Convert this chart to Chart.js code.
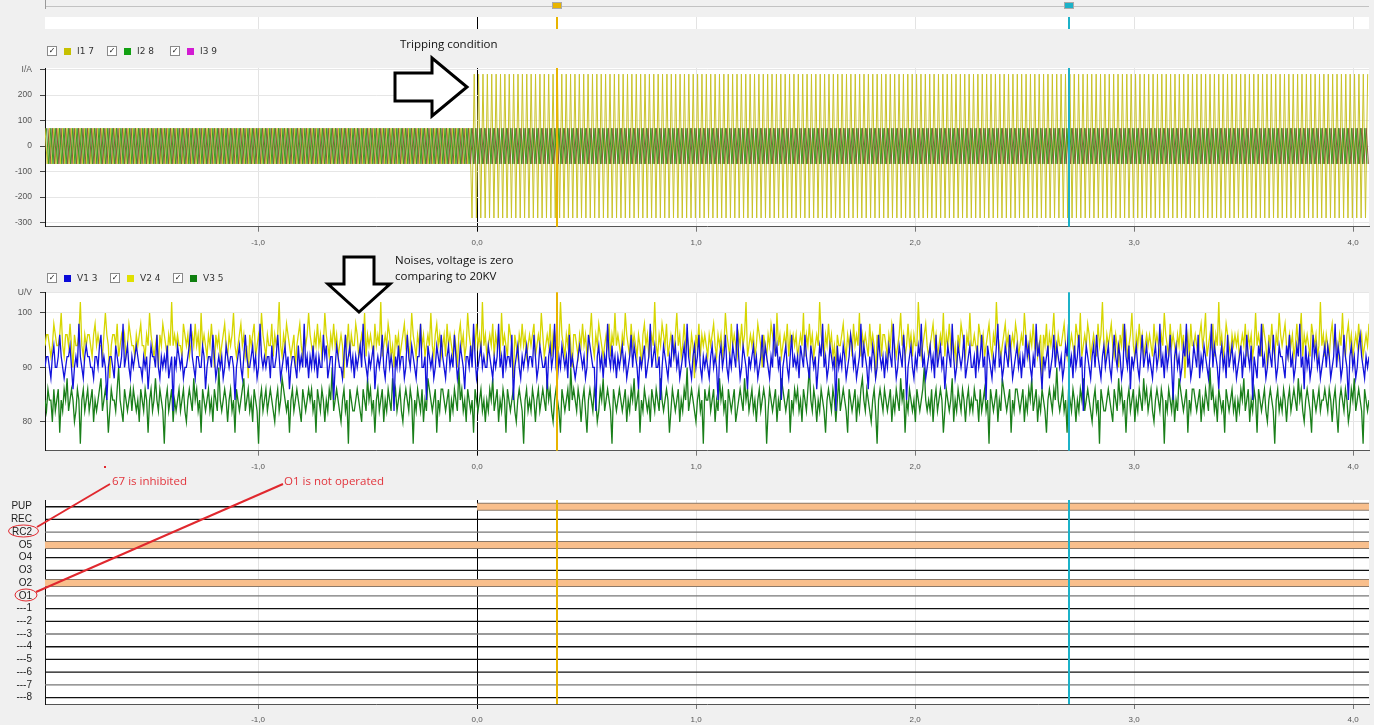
<!DOCTYPE html>
<html>
<head>
<meta charset="utf-8">
<script src="https://cdn.jsdelivr.net/npm/chart.js@4.4.1/dist/chart.umd.min.js"></script>
<style>
  html, body { margin: 0; padding: 0; background: #f0f0f0; width: 1374px; height: 725px; overflow: hidden; }
  .box { position: absolute; left: 0; width: 1374px; }
  .lg { position: absolute; display: flex; align-items: center; height: 12px; font: 9px "DejaVu Sans", sans-serif; color: #333; }
  .cb { width: 8px; height: 8px; border: 1px solid #8a8a8a; background: #fff; font: bold 8px "DejaVu Sans", sans-serif; line-height: 8px; text-align: center; color: #111; margin-right: 7px; }
  .sw { width: 7px; height: 7px; margin-right: 6px; }
  .note { position: absolute; font: 11.5px "Open Sans", sans-serif; color: #111; white-space: nowrap; line-height: 16px; }
  .red { color: #e2343c; }
</style>
</head>
<body>
<div class="box" style="top:0;height:32px"><canvas id="strip"></canvas></div>
<div class="box" style="top:34px;height:216px"><canvas id="currents"></canvas></div>
<div class="box" style="top:250px;height:220px"><canvas id="voltages"></canvas></div>
<div class="box" style="top:455px;height:270px"><canvas id="digital"></canvas></div>

<div class="note" style="left:400px;top:36px">Tripping condition</div>
<div class="note" style="left:395px;top:252px">Noises, voltage is zero<br>comparing to 20KV</div>
<div class="note red" style="left:112px;top:473px">67 is inhibited</div>
<div class="note red" style="left:284px;top:473px">O1 is not operated</div>

<script>
// time window (s) and axis ticks
const tMin = -1.973;
const tMax = 4.073;
const timeTicks = [-1, 0, 1, 2, 3, 4];
const cursorTimes = [0.365, 2.703];
const cursorColors = ["#e8b400", "#1cb2c8"];

// currents (A): amplitude before / after the fault, 50 Hz
const currentNames = ["I1 7", "I2 8", "I3 9"];
const faultTime = -0.031;
const freqHz = 50;
const i1Amp = [70, 282];
const i2Amp = [70, 70];
const i3Amp = [70, 70];
const currentTicks = [300, 200, 100, 0, -100, -200, -300];

// voltages (V), noise samples read across the window
const voltageNames = ["V1 3", "V2 4", "V3 5"];
const voltageTicks = [103.8, 100, 90, 80];
const v1 = [
  90,92,92,90,88,92,94,90,90,92,96,92,90,88,90,92,92,94,90,86,90,92,90,98,92,90,88,92,94,92,
  92,90,90,88,92,92,90,94,96,90,92,90,84,90,92,92,90,88,94,92,90,90,92,98,90,92,94,90,88,92,
  90,92,94,92,90,90,88,92,90,92,86,90,94,92,92,90,96,90,88,92,90,92,90,94,88,90,92,82,92,90,
  94,92,90,92,88,90,90,92,94,98,92,90,88,92,92,90,90,94,92,86,90,92,92,90,96,92,88,90,92,90,
  92,88,90,94,92,90,92,92,90,84,90,92,94,90,88,92,96,92,90,90,92,94,90,92,88,90,98,92,90,92,
  90,92,92,88,94,90,90,92,96,92,88,90,92,94,90,92,86,90,92,92,90,88,94,90,92,90,98,90,92,88,
  92,90,94,90,92,88,92,90,90,96,92,94,88,90,92,92,84,90,94,92,90,90,88,92,96,90,92,94,90,92,
  88,92,90,92,94,90,98,92,90,88,92,90,92,94,86,90,92,90,92,96,90,88,92,94,90,92,90,82,92,90,
  94,90,92,92,88,90,96,92,90,94,92,90,88,92,92,98,90,90,92,84,94,92,90,92,88,90,94,92,90,96,
  92,90,88,92,94,90,92,90,96,92,88,90,94,92,90,86,92,92,90,94,90,98,92,88,90,92,94,90,92,90,
  90,94,92,90,88,92,90,92,98,90,92,88,94,90,92,92,90,96,84,90,92,94,90,88,92,90,92,94,90,92,
  92,90,96,92,88,90,94,92,90,90,92,86,92,94,90,92,98,90,88,92,90,94,92,90,92,88,96,90,92,90,
  88,90,92,94,92,90,92,88,90,96,94,92,90,90,82,92,94,90,92,88,92,90,98,92,90,94,90,92,88,92,
  90,92,94,90,92,88,90,92,96,90,94,92,90,86,92,90,92,94,88,90,92,98,90,92,94,90,90,92,84,90,
  94,92,90,88,92,90,96,92,94,90,92,88,90,92,94,90,98,92,90,88,92,94,90,92,96,90,88,92,90,92,
  90,88,92,94,90,92,90,84,92,94,90,92,96,90,88,92,90,94,92,90,98,92,88,90,94,92,90,86,92,90,
  92,94,90,92,88,90,92,96,90,94,92,90,88,92,90,98,92,94,90,92,84,90,92,94,90,88,92,96,90,92,
  90,92,88,94,92,90,96,92,90,88,94,92,90,92,86,90,94,92,98,90,92,88,90,94,92,90,92,82,94,90,
  92,90,94,92,88,90,92,96,94,90,92,88,90,92,98,90,94,92,90,86,92,90,94,92,88,90,96,92,90,92,
  88,92,90,94,92,90,98,92,88,90,94,92,90,96,92,84,90,92,94,90,88,92,90,94,92,98,90,92,88,90,
  92,94,90,92,88,96,90,92,94,90,92,86,90,94,92,90,98,92,88,90,94,92,90,92,96,88,90,92,94,90,
  90,92,88,94,90,92,96,90,92,84,94,92,90,88,92,90,94,98,90,92,88,90,94,92,90,96,92,88,90,92,
  94,90,92,88,92,90,96,92,94,90,88,92,90,98,92,94,90,86,92,90,92,94,88,90,92,96,90,94,92,90,
  92,88,90,94,92,98,90,92,88,94,90,92,96,90,92,82,90,94,92,90,88,92,94,90,96,92,90,88,92,94,
  90,92,94,90,88,92,96,92,90,94,92,88,90,98,92,90,94,86,92,90,92,94,90,88,92,96,90,92,94,90,
  92,90,88,92,94,90,92,98,90,92,88,94,90,92,96,90,84,92,94,90,92,88,90,94,92,98,90,92,88,90,
  94,92,90,96,88,92,90,94,92,90,88,92,98,90,94,92,90,86,92,94,90,92,88,96,90,92,94,90,92,88,
  90,92,94,88,92,90,96,92,90,94,84,92,90,88,94,92,98,90,92,88,90,94,92,90,96,92,88,90,94,92,
  92,90,88,94,92,96,90,92,88,90,94,92,98,90,92,86,94,90,92,88,90,96,92,94,90,92,88,90,92,94,
  90,94,92,88,90,92,98,90,94,92,88,90,96,92,90,84,92,94,90,92,88,90,94,96,92,90,88,92,90,92
];
const v2 = [
  94,96,96,94,92,94,98,96,94,94,96,100,94,92,96,96,94,98,94,90,96,94,94,96,102,94,92,96,94,96,
  96,94,92,96,98,94,96,94,94,92,96,100,96,94,88,94,96,96,94,98,92,94,96,94,96,92,94,98,96,94,
  94,92,96,94,96,98,94,94,92,96,94,100,96,94,92,94,96,90,96,94,98,96,94,92,96,94,102,94,96,94,
  96,94,94,92,98,96,94,96,92,94,96,94,98,94,96,92,100,94,96,94,92,96,94,98,94,90,96,94,96,92,
  94,96,98,94,92,96,94,96,100,94,92,94,96,98,94,96,92,94,88,96,94,96,98,92,94,96,94,100,96,94,
  92,96,94,94,98,92,96,94,96,102,94,92,96,94,98,96,94,92,94,96,90,94,96,98,94,92,96,94,96,100,
  96,94,92,96,94,98,94,96,92,94,100,96,94,92,96,94,98,94,96,92,94,96,94,88,96,94,98,92,96,94,
  94,98,96,92,94,96,94,100,92,96,94,96,94,92,98,94,96,94,102,92,94,96,94,98,96,92,94,90,96,94,
  96,92,94,96,98,94,96,92,94,100,96,94,92,96,94,98,94,96,92,94,96,94,100,94,92,96,98,94,96,92,
  94,96,92,98,94,96,94,92,96,94,90,96,98,94,96,92,94,100,96,94,92,96,94,98,94,96,92,102,94,96,
  92,94,96,94,98,92,96,94,96,92,100,94,96,94,92,98,96,94,88,96,94,92,96,94,98,94,96,92,94,96,
  94,96,98,92,94,96,94,100,96,92,94,96,94,98,92,96,94,96,92,94,102,96,94,92,96,94,98,94,90,96,
  96,94,92,96,94,98,94,96,92,94,96,100,94,92,96,94,98,96,94,92,94,96,94,98,92,96,94,100,94,96,
  94,92,96,94,100,96,94,92,98,94,96,94,92,96,94,90,96,98,94,96,92,94,96,94,102,94,92,96,94,98,
  96,94,98,92,94,96,94,92,96,100,94,96,92,94,98,94,96,94,92,96,94,88,96,94,98,92,96,94,96,94,
  92,96,94,96,98,94,92,96,94,96,92,94,100,96,94,92,98,94,96,94,92,96,94,98,94,96,102,92,94,96,
  94,96,92,94,98,96,94,90,96,94,92,96,94,98,96,94,92,100,94,96,92,94,96,94,98,92,96,94,96,94,
  96,92,94,96,94,100,92,96,94,98,94,96,92,94,96,94,102,96,94,92,96,94,98,94,96,92,94,90,96,94,
  94,96,98,94,92,96,94,96,92,98,94,96,94,100,92,96,94,96,94,92,98,94,96,94,88,96,94,98,92,96,
  96,94,92,96,94,98,96,94,92,94,96,100,94,96,92,94,98,94,96,92,96,94,94,102,96,92,94,96,98,94,
  92,94,96,98,94,96,92,94,96,94,100,92,96,94,98,94,96,92,94,90,96,94,98,96,94,92,96,94,100,94,
  94,96,94,92,98,96,94,96,92,94,96,98,94,92,96,94,102,96,94,92,94,96,98,94,96,92,94,96,94,98,
  96,92,94,96,94,100,96,94,92,96,94,98,94,96,92,94,96,88,96,94,98,92,96,94,96,100,94,92,96,94,
  94,96,98,94,92,96,94,96,94,92,98,96,94,100,92,94,96,94,98,96,92,94,96,94,92,98,94,96,102,94,
  92,96,94,96,98,94,92,96,94,90,96,94,98,94,96,92,94,96,100,94,92,96,94,98,94,96,92,94,96,94,
  96,94,92,98,94,96,94,92,96,94,100,96,94,92,98,94,96,94,92,96,94,98,94,96,88,94,96,92,98,94,
  94,96,94,92,96,98,94,96,100,92,94,96,94,98,92,96,94,102,94,96,92,94,98,96,94,92,96,94,96,94,
  96,92,94,96,94,98,92,96,94,96,92,94,100,94,96,94,92,98,96,94,90,96,94,98,94,92,96,94,100,96,
  94,96,98,94,92,96,94,96,92,94,98,94,96,100,92,96,94,96,94,92,98,96,94,96,92,94,102,94,96,92,
  96,94,92,96,98,94,96,94,92,96,94,100,94,92,96,98,94,96,92,94,96,94,98,94,96,92,94,96,94,98
];
const v3 = [
  84,82,86,84,84,80,86,82,84,86,78,84,82,86,84,88,82,84,86,84,80,82,86,84,76,84,86,82,84,86,
  82,84,86,80,84,82,84,86,88,82,84,86,84,78,82,86,84,84,82,86,90,84,82,80,86,84,82,84,86,82,
  86,84,82,84,80,86,84,82,86,84,78,84,86,82,84,88,84,82,86,84,82,76,84,86,82,84,86,80,84,82,
  84,86,82,84,86,82,80,84,86,84,82,88,84,86,82,84,78,86,84,82,84,86,82,84,80,86,84,82,90,84,
  82,84,86,84,80,84,86,82,84,78,86,84,82,84,86,88,82,84,86,82,84,80,86,84,82,76,84,86,82,84,
  86,82,84,86,84,82,80,84,86,82,84,88,86,84,82,84,78,84,86,82,84,86,84,82,80,86,84,82,84,86,
  84,86,82,84,78,86,84,82,86,84,80,84,82,86,84,90,82,84,86,84,82,80,84,86,82,84,76,86,84,82,
  82,84,86,84,82,80,86,84,82,88,84,86,82,84,78,84,86,82,84,86,80,84,82,86,84,82,88,84,86,82,
  84,86,82,80,84,86,84,82,86,84,76,84,82,86,84,82,86,80,84,82,88,86,84,82,84,86,78,84,82,86,
  86,84,82,84,86,80,84,82,86,84,82,90,84,86,82,84,80,86,84,82,84,78,86,84,82,84,86,82,84,80,
  84,82,86,84,88,82,84,86,80,84,82,86,84,78,86,84,82,84,86,82,80,84,86,84,82,76,84,86,82,84,
  82,86,84,80,84,86,82,84,86,84,82,88,84,86,82,80,84,86,84,82,78,86,84,82,84,86,82,90,84,86,
  84,82,86,84,80,84,86,82,78,84,86,84,82,86,84,80,82,86,84,88,82,84,86,84,82,76,86,84,82,84,
  86,84,82,84,86,80,84,82,86,84,88,82,84,86,78,84,82,86,84,82,84,80,86,84,82,86,84,82,88,84,
  82,84,86,84,78,82,86,84,82,84,86,80,84,82,86,84,90,82,84,86,84,82,80,84,86,82,84,76,86,84,
  84,86,82,84,86,80,84,82,88,84,86,82,84,78,86,84,82,84,86,80,82,84,86,84,82,88,84,86,82,84,
  86,82,84,80,84,86,82,84,86,84,76,82,86,84,82,84,86,80,84,82,88,86,84,82,84,86,78,84,82,86,
  84,86,82,84,80,86,84,82,86,90,84,82,86,84,80,84,82,86,84,82,78,84,86,84,82,86,84,80,84,88,
  82,84,86,84,82,78,86,84,82,84,86,80,84,82,86,88,84,82,86,84,82,80,84,86,82,76,84,86,84,82,
  86,84,82,84,86,80,84,82,86,84,82,88,84,86,78,84,82,86,84,82,84,80,86,84,82,84,86,90,84,82,
  84,82,86,80,84,86,82,84,86,84,78,82,86,84,82,84,88,80,84,82,86,84,82,86,84,80,84,86,82,84,
  82,86,84,84,80,86,82,84,86,82,84,76,86,84,82,84,86,80,84,82,88,86,84,82,84,86,78,84,82,86,
  86,84,82,84,86,80,84,82,86,84,88,82,84,86,80,84,82,86,84,82,78,84,86,84,82,86,84,90,84,82,
  84,86,82,84,78,86,84,82,86,84,80,84,82,86,84,88,82,84,86,84,82,80,84,86,82,84,76,86,84,82,
  82,84,86,84,82,80,86,84,82,88,84,86,82,84,78,84,86,82,84,86,80,84,82,86,84,82,88,84,86,82,
  84,86,82,80,84,86,84,82,86,84,76,84,82,86,84,82,86,80,84,82,88,86,84,82,84,86,78,84,82,86,
  86,84,82,84,86,80,84,82,86,84,82,90,84,86,82,84,80,86,84,82,84,78,86,84,82,84,86,82,84,80,
  84,82,86,84,88,82,84,86,80,84,82,86,84,78,86,84,82,84,86,82,80,84,86,84,82,76,84,86,82,84,
  82,86,84,80,84,86,82,84,86,84,82,88,84,86,82,80,84,86,84,82,78,86,84,82,84,86,82,84,84,86,
  84,82,86,84,80,84,86,82,78,84,86,84,82,86,84,80,82,86,84,88,82,84,86,84,82,76,86,84,82,84
];

// binary channels
const digitalLabels = ["PUP", "REC", "RC2", "O5", "O4", "O3", "O2", "O1",
  "---1", "---2", "---3", "---4", "---5", "---6", "---7", "---8"];
const activeChannels = ["PUP", "O5", "O2"];
const activeStart = [0.0, tMin, tMin];

// styles
const currentColors = ["#c9c329", "#3c9e24", "#8c5a3c"];
const currentKeyColors = ["#c6c000", "#12a012", "#d21bd2"];
const voltageColors = ["#1212dc", "#d6d600", "#1a7f1a"];
const voltageKeyColors = ["#0a0ad8", "#e0e000", "#108010"];
const lineShade = ["#111", "#111", "#777", "#777", "#111", "#111", "#555", "#777",
  "#111", "#111", "#777", "#111", "#111", "#111", "#777", "#111"];

Chart.defaults.font.family = "'Liberation Sans', Arial, sans-serif";
Chart.defaults.animation = false;

function waveform(amp, phase) {
  // one point per half cycle, sign alternating
  const half = 1 / freqHz / 2;
  const pts = [];
  let k = 0;
  for (let t = tMin + phase / freqHz; t <= tMax; t += half, k++) {
    const a = t < faultTime ? amp[0] : amp[1];
    pts.push({ x: t, y: k % 2 ? -a : a });
  }
  return pts;
}

function samples(arr) {
  const step = (tMax - tMin) / (arr.length - 1);
  return arr.map((v, i) => ({ x: tMin + i * step, y: v }));
}

function timeAxis(height, labels) {
  return {
    type: "linear", min: tMin, max: tMax,
    afterBuildTicks: s => { s.ticks = timeTicks.map(v => ({ value: v })); },
    afterFit: s => { s.height = height; },
    grid: {
      color: c => (c.tick && c.tick.value === 0 ? "#000" : "#e3e3e3"),
      tickColor: c => (c.tick && c.tick.value === 0 ? "#000" : "#777"),
      tickLength: 5, drawTicks: labels
    },
    border: { display: labels, color: "#555" },
    ticks: {
      display: labels, padding: 6, color: "#555", font: { size: 8 }, maxRotation: 0,
      callback: v => v.toFixed(1).replace(".", ",")
    }
  };
}

const panelPlugin = {
  id: "panel",
  beforeDraw(chart) {
    const { ctx, chartArea: a } = chart;
    ctx.save();
    ctx.fillStyle = "#fff";
    ctx.fillRect(a.left, a.top, a.right - a.left, a.bottom - a.top);
    ctx.restore();
  },
  afterDatasetsDraw(chart) {
    const { ctx, chartArea: a, scales: { x } } = chart;
    cursorTimes.forEach((t, i) => {
      const px = Math.round(x.getPixelForValue(t));
      ctx.save();
      ctx.strokeStyle = cursorColors[i];
      ctx.lineWidth = 2;
      ctx.beginPath();
      ctx.moveTo(px, a.top);
      ctx.lineTo(px, a.bottom);
      ctx.stroke();
      ctx.restore();
    });
  }
};

function drawArrow(ctx, pts) {
  ctx.save();
  ctx.beginPath();
  pts.forEach((p, i) => (i ? ctx.lineTo(p[0], p[1]) : ctx.moveTo(p[0], p[1])));
  ctx.closePath();
  ctx.fillStyle = "#fff";
  ctx.fill();
  ctx.lineWidth = 3;
  ctx.lineJoin = "miter";
  ctx.strokeStyle = "#000";
  ctx.stroke();
  ctx.restore();
}

function baseOptions(padTop) {
  return {
    responsive: true, maintainAspectRatio: false, events: [],
    layout: { padding: { top: padTop, right: 5, left: 0, bottom: 0 } },
    plugins: { legend: { display: false }, tooltip: { enabled: false } },
    elements: { point: { radius: 0 }, line: { borderWidth: 1, tension: 0 } }
  };
}

// overview strip
const stripOpts = baseOptions(17);
stripOpts.layout.padding.left = 45;
stripOpts.layout.padding.bottom = 3;
stripOpts.scales = { x: timeAxis(0, false), y: { display: false, min: 0, max: 1 } };
new Chart(document.getElementById("strip"), {
  type: "line",
  data: { datasets: [] },
  options: stripOpts,
  plugins: [panelPlugin, {
    id: "stripTop",
    afterDraw(chart) {
      const { ctx, scales: { x } } = chart;
      ctx.save();
      ctx.strokeStyle = "#c2c2c2";
      ctx.beginPath(); ctx.moveTo(45, 6.5); ctx.lineTo(1369, 6.5); ctx.stroke();
      ctx.strokeStyle = "#999";
      ctx.beginPath(); ctx.moveTo(45.5, 0); ctx.lineTo(45.5, 9); ctx.stroke();
      cursorTimes.forEach((t, i) => {
        const px = Math.round(x.getPixelForValue(t));
        ctx.fillStyle = cursorColors[i];
        ctx.fillRect(px - 4, 3, 8, 5);
        ctx.strokeStyle = "#aaa";
        ctx.strokeRect(px - 4.5, 2.5, 9, 6);
      });
      ctx.restore();
    }
  }]
});

// currents
const curOpts = baseOptions(34);
curOpts.scales = {
  x: timeAxis(23.3, true),
  y: {
    min: -316, max: 306,
    afterBuildTicks: s => { s.ticks = currentTicks.map(v => ({ value: v })); },
    afterFit: s => { s.width = 45; },
    grid: { color: "#e6e6e6", tickColor: "#444", tickLength: 5 },
    border: { color: "#111" },
    ticks: { padding: 8, color: "#555", font: { size: 8.5 }, callback: v => (v === 300 ? "I/A" : v) }
  }
};
new Chart(document.getElementById("currents"), {
  type: "line",
  data: {
    datasets: [
      { label: currentNames[0], data: waveform(i1Amp, 0), borderColor: currentColors[0], order: 2 },
      { label: currentNames[1], data: waveform(i2Amp, 1 / 3), borderColor: currentColors[1], order: 0 },
      { label: currentNames[2], data: waveform(i3Amp, 2 / 3), borderColor: currentColors[2], order: 1 }
    ]
  },
  options: curOpts,
  plugins: [panelPlugin, {
    id: "tripArrow",
    afterDraw(chart) {
      const oy = 34;
      drawArrow(chart.ctx, [[395, 73], [432, 73], [432, 58], [467, 87], [432, 116], [432, 101], [395, 101]]
        .map(p => [p[0], p[1] - oy]));
    }
  }]
});

// voltages
const volOpts = baseOptions(42.3);
volOpts.scales = {
  x: timeAxis(19.3, true),
  y: {
    min: 74.7, max: 103.8,
    afterBuildTicks: s => { s.ticks = voltageTicks.map(v => ({ value: v })); },
    afterFit: s => { s.width = 45; },
    grid: { color: "#e6e6e6", tickColor: "#444", tickLength: 5 },
    border: { color: "#111" },
    ticks: { padding: 8, color: "#555", font: { size: 8.5 }, callback: v => (v === 103.8 ? "U/V" : v) }
  }
};
new Chart(document.getElementById("voltages"), {
  type: "line",
  data: {
    datasets: [
      { label: voltageNames[0], data: samples(v1), borderColor: voltageColors[0], borderWidth: 1.3, order: 0 },
      { label: voltageNames[1], data: samples(v2), borderColor: voltageColors[1], borderWidth: 1.3, order: 2 },
      { label: voltageNames[2], data: samples(v3), borderColor: voltageColors[2], borderWidth: 1.3, order: 1 }
    ]
  },
  options: volOpts,
  plugins: [panelPlugin, {
    id: "noiseArrow",
    afterDraw(chart) {
      const oy = 250;
      drawArrow(chart.ctx, [[344, 257], [374, 257], [374, 284], [390, 284], [359, 312], [328, 284], [344, 284]]
        .map(p => [p[0], p[1] - oy]));
    }
  }]
});

// binary channels
const digSets = [];
digitalLabels.forEach((name, i) => {
  digSets.push({ data: [{ x: tMin, y: i }, { x: tMax, y: i }], borderColor: lineShade[i], borderWidth: 1.3, order: 0 });
});
activeChannels.forEach((name, k) => {
  const i = digitalLabels.indexOf(name);
  const pts = [{ x: activeStart[k], y: i }, { x: tMax, y: i }];
  digSets.push({ data: pts, borderColor: "#8a7868", borderWidth: 8, order: -1 });
  digSets.push({ data: pts, borderColor: "#f9bf8c", borderWidth: 6, order: -2 });
});
const digOpts = baseOptions(45);
digOpts.scales = {
  x: timeAxis(21, true),
  y: {
    reverse: true, min: -0.53, max: 15.5,
    afterBuildTicks: s => { s.ticks = digitalLabels.map((_, i) => ({ value: i })); },
    afterFit: s => { s.width = 45; },
    grid: { display: false, drawTicks: false },
    border: { color: "#111" },
    ticks: { padding: 13, color: "#222", font: { size: 10 }, autoSkip: false, callback: v => digitalLabels[v] }
  }
};
new Chart(document.getElementById("digital"), {
  type: "line",
  data: { datasets: digSets },
  options: digOpts,
  plugins: [panelPlugin, {
    id: "redNotes",
    afterDraw(chart) {
      const ctx = chart.ctx, oy = 455;
      ctx.save();
      ctx.strokeStyle = "#e0282e";
      ctx.fillStyle = "#e0282e";
      ctx.lineWidth = 2;
      ctx.beginPath(); ctx.moveTo(110, 484 - oy); ctx.lineTo(37, 527 - oy); ctx.stroke();
      ctx.beginPath(); ctx.moveTo(283, 484 - oy); ctx.lineTo(36, 592 - oy); ctx.stroke();
      ctx.lineWidth = 1;
      ctx.beginPath(); ctx.ellipse(23.5, 531 - oy, 15, 6, 0, 0, Math.PI * 2); ctx.stroke();
      ctx.beginPath(); ctx.ellipse(26, 595 - oy, 11, 6, 0, 0, Math.PI * 2); ctx.stroke();
      ctx.fillRect(104, 466 - oy, 2, 2);
      ctx.restore();
    }
  }]
});

// legends with check boxes
function buildLegend(top, names, colors, lefts) {
  names.forEach((n, i) => {
    const el = document.createElement("div");
    el.className = "lg";
    el.style.top = top + "px";
    el.style.left = lefts[i] + "px";
    el.innerHTML = '<span class="cb">✓</span><span class="sw" style="background:' + colors[i] + '"></span>' + n;
    document.body.appendChild(el);
  });
}
buildLegend(45, currentNames, currentKeyColors, [47, 107, 170]);
buildLegend(272, voltageNames, voltageKeyColors, [47, 110, 173]);
</script>
</body>
</html>
